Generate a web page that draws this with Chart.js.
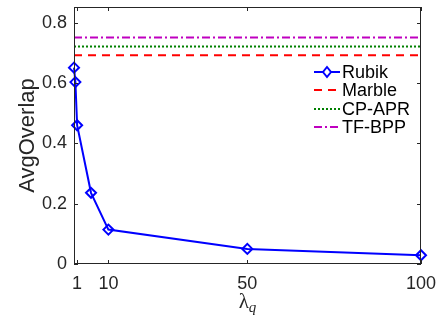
<!DOCTYPE html>
<html><head><meta charset="utf-8">
<script src="https://cdn.jsdelivr.net/npm/chart.js@4"></script>
<style>html,body{margin:0;padding:0;background:#fff}#wrap{width:443px;height:320px}</style>
</head><body><div id="wrap"><canvas id="c"></canvas></div>
<script>
const lambdaQ = [0.1, 0.5, 1, 5, 10, 50, 100];
const rubik = [0.651, 0.603, 0.46, 0.236, 0.114, 0.05, 0.029];
const marble = 0.692;
const cpapr = 0.721;
const tfbpp = 0.751;
const xTicks = [1, 10, 50, 100];
const yTicks = [0, 0.2, 0.4, 0.6, 0.8];
const xRange = [0.1, 100];
const labels = ['Rubik', 'Marble', 'CP-APR', 'TF-BPP'];

const flat = v => xRange.map(x => ({x, y: v}));

const frame = {
  id: 'frame',
  afterDraw(chart) {
    const {ctx, chartArea: a, scales} = chart;
    ctx.save();
    ctx.strokeStyle = '#262626';
    ctx.lineWidth = 1;
    ctx.strokeRect(a.left + 0.5, a.top + 0.5, a.right - a.left - 1, a.bottom - a.top - 1);
    ctx.beginPath();
    const tl = 4;
    yTicks.forEach(v => {
      const y = Math.round(scales.y.getPixelForValue(v)) + 0.5;
      ctx.moveTo(a.left, y); ctx.lineTo(a.left + tl, y);
      ctx.moveTo(a.right, y); ctx.lineTo(a.right - tl, y);
    });
    xTicks.forEach(v => {
      const x = Math.round(scales.x.getPixelForValue(v)) + 0.5;
      ctx.moveTo(x, a.bottom); ctx.lineTo(x, a.bottom - tl);
      ctx.moveTo(x, a.top); ctx.lineTo(x, a.top + tl);
    });
    ctx.stroke();
    // x label lambda_q
    ctx.fillStyle = '#262626';
    ctx.textBaseline = 'alphabetic';
    const cx = (a.left + a.right) / 2;
    ctx.font = '21px "Liberation Serif", serif';
    const lw = ctx.measureText('λ').width;
    ctx.font = 'italic 15px "Liberation Serif", serif';
    const qw = ctx.measureText('q').width;
    const start = cx - (lw + qw) / 2;
    ctx.font = '21px "Liberation Serif", serif';
    ctx.textAlign = 'left';
    ctx.fillText('λ', start, 308);
    ctx.font = 'italic 15px "Liberation Serif", serif';
    ctx.fillText('q', start + lw, 312);
    // legend
    const lx0 = 314, lx1 = 340, tx = 342;
    const rows = [72, 90, 109, 127];
    chart.data.datasets.forEach((ds, i) => {
      const y = rows[i];
      ctx.save();
      ctx.strokeStyle = ds.borderColor;
      ctx.lineWidth = ds.borderWidth;
      ctx.setLineDash(ds.borderDash || []);
      ctx.beginPath(); ctx.moveTo(lx0, y); ctx.lineTo(lx1, y); ctx.stroke();
      ctx.setLineDash([]);
      if (i === 0) {
        const mx = (lx0 + lx1) / 2, r = 5;
        ctx.beginPath();
        ctx.moveTo(mx, y - r); ctx.lineTo(mx + r*0.8, y); ctx.lineTo(mx, y + r); ctx.lineTo(mx - r*0.8, y); ctx.closePath();
        ctx.fillStyle = '#fff'; ctx.fill(); ctx.stroke();
      }
      ctx.restore();
      ctx.fillStyle = '#000';
      ctx.font = '18px "Liberation Sans", Arial, sans-serif';
      ctx.textBaseline = 'middle';
      ctx.textAlign = 'left';
      ctx.fillText(labels[i], tx, y + 1);
    });
    ctx.restore();
  }
};

new Chart(document.getElementById('c'), {
  type: 'line',
  data: {
    datasets: [
      {label: labels[0], data: lambdaQ.map((x, i) => ({x, y: rubik[i]})), borderColor: '#0000ff', borderWidth: 2,
       pointStyle: 'rectRot', pointRadius: 5, pointBorderWidth: 2, pointBackgroundColor: 'rgba(0,0,0,0)', pointBorderColor: '#0000ff', fill: false, tension: 0, clip: false},
      {label: labels[1], data: flat(marble), borderColor: '#ff0000', borderWidth: 2, borderDash: [8, 6], pointRadius: 0, fill: false},
      {label: labels[2], data: flat(cpapr), borderColor: '#008000', borderWidth: 2, borderDash: [2, 2], pointRadius: 0, fill: false},
      {label: labels[3], data: flat(tfbpp), borderColor: '#bf00bf', borderWidth: 2, borderDash: [8, 3, 2, 3], pointRadius: 0, fill: false}
    ]
  },
  options: {
    responsive: true, maintainAspectRatio: false, animation: false,
    layout: {padding: {left: 0, top: 5, right: 22, bottom: 0}},
    plugins: {legend: {display: false}, tooltip: {enabled: false}},
    scales: {
      x: {type: 'linear', min: xRange[0], max: xRange[1],
          afterBuildTicks: s => { s.ticks = xTicks.map(v => ({value: v})); },
          afterFit: s => { s.height = 56; s.paddingLeft = 0; s.paddingRight = 0; },
          grid: {display: false, drawTicks: false}, border: {display: false},
          ticks: {color: '#262626', font: {size: 18, family: '"Liberation Sans", Arial, sans-serif'}, padding: 9, maxRotation: 0, autoSkip: false}},
      y: {type: 'linear', min: 0, max: 0.852,
          afterBuildTicks: s => { s.ticks = yTicks.map(v => ({value: v})); },
          afterFit: s => { s.width = 74; s.paddingTop = 0; s.paddingBottom = 0; },
          grid: {display: false, drawTicks: false}, border: {display: false},
          title: {display: true, text: 'AvgOverlap', color: '#262626', font: {size: 22, family: '"Liberation Sans", Arial, sans-serif'}, padding: {top: 15, bottom: 0}},
          ticks: {color: '#262626', font: {size: 18, family: '"Liberation Sans", Arial, sans-serif'}, padding: 7,
                  callback: v => v === 0 ? '0' : v.toFixed(1)}}
    }
  },
  plugins: [frame]
});
</script></body></html>
